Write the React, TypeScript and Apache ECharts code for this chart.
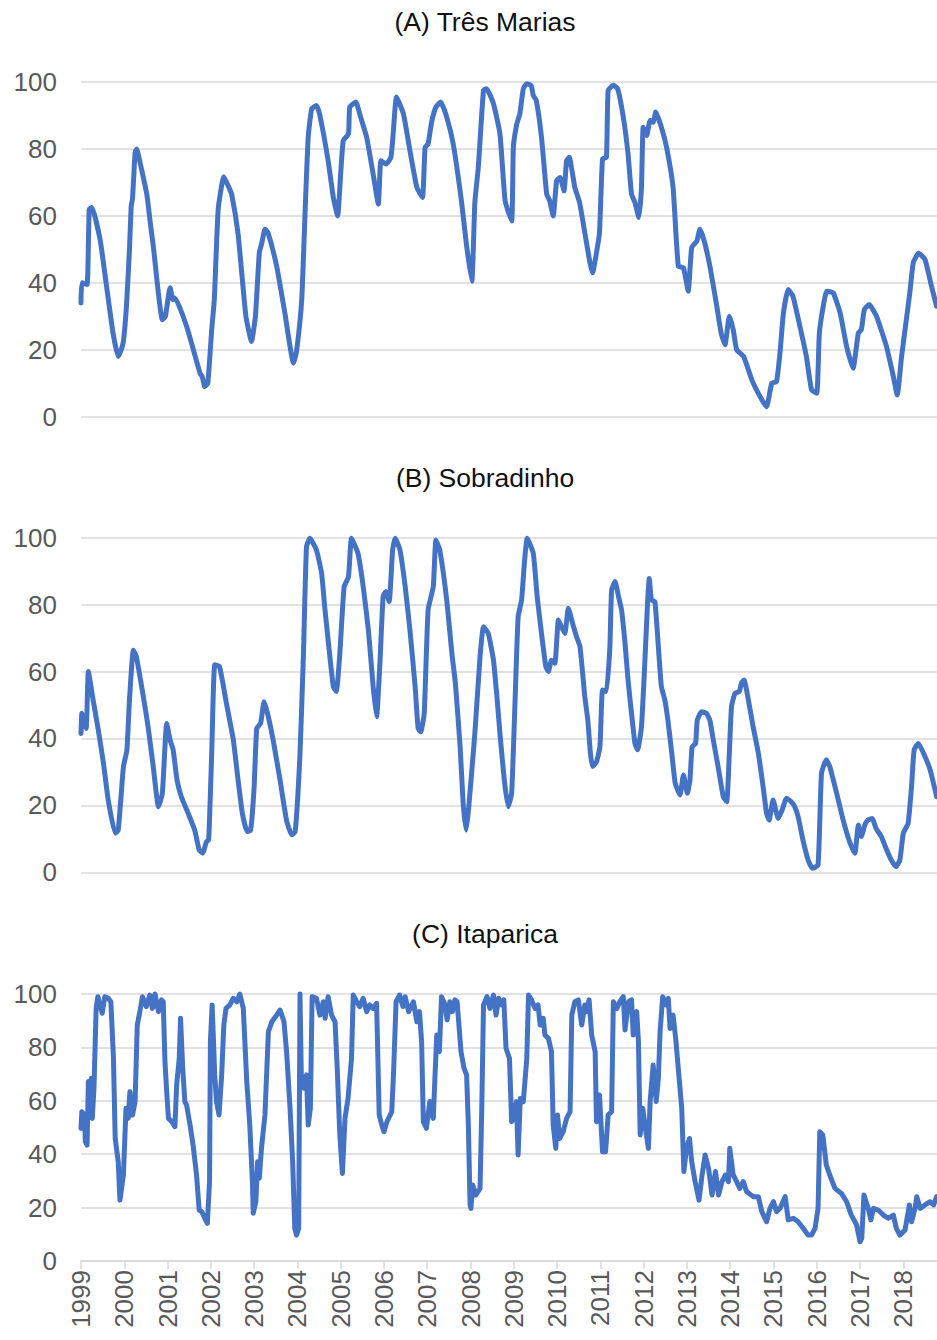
import React, { useEffect, useRef } from "react";
import * as echarts from "echarts";

const titles = ["(A) Três Marias", "(B) Sobradinho", "(C) Itaparica"];
const yTicks = [0, 20, 40, 60, 80, 100];

// Três Marias (decimal year, %)
const tmA = [1999.00,1999.02,1999.14,1999.19,1999.25,1999.44,1999.59,1999.74,1999.86,1999.93,1999.98,2000.05,2000.12,2000.16,2000.19,2000.25,2000.29,2000.33,2000.52,2000.60,2000.67,2000.88,2000.95,2001.03,2001.06,2001.12,2001.17,2001.44,2001.75,2001.80,2001.86,2001.93,2002.02,2002.08,2002.17,2002.30,2002.40,2002.48,2002.63,2002.81,2002.94,2003.03,2003.12,2003.18,2003.25,2003.32,2003.52,2003.71,2003.91,2003.98,2004.10,2004.18,2004.25,2004.33,2004.44,2004.52,2004.71,2004.83,2004.93,2005.00,2005.06,2005.18,2005.21,2005.35,2005.45,2005.60,2005.75,2005.87,2005.93,2006.05,2006.16,2006.21,2006.29,2006.45,2006.60,2006.76,2006.89,2006.95,2007.02,2007.10,2007.20,2007.31,2007.45,2007.60,2007.79,2007.91,2008.03,2008.10,2008.18,2008.30,2008.37,2008.53,2008.68,2008.80,2008.95,2008.99,2009.07,2009.14,2009.22,2009.30,2009.40,2009.45,2009.52,2009.64,2009.76,2009.83,2009.91,2009.99,2010.07,2010.16,2010.22,2010.28,2010.41,2010.52,2010.64,2010.76,2010.82,2010.91,2010.98,2011.05,2011.14,2011.18,2011.30,2011.40,2011.53,2011.64,2011.72,2011.80,2011.89,2011.95,2011.99,2012.07,2012.15,2012.22,2012.28,2012.41,2012.53,2012.68,2012.80,2012.92,2013.03,2013.11,2013.23,2013.30,2013.40,2013.53,2013.69,2013.79,2013.88,2013.98,2014.07,2014.15,2014.31,2014.50,2014.69,2014.84,2014.96,2015.07,2015.15,2015.23,2015.34,2015.45,2015.61,2015.76,2015.88,2016.00,2016.06,2016.15,2016.23,2016.38,2016.54,2016.69,2016.84,2016.96,2017.03,2017.10,2017.21,2017.38,2017.61,2017.77,2017.86,2017.96,2018.04,2018.15,2018.23,2018.35,2018.50,2018.65,2018.77];
const valA = [34,40,39.5,62,62.5,53,39,25,18,20,22.5,33,50,63,65,79,80,78,66.5,58,51,29,30,37,38.5,35,35.5,27,13,12,9,10,26,35,62,71.7,69,66.5,54.5,30,22.5,30,49,52,56,55,45,31,16,19.5,35,62,83.5,92,93,90,76.5,65.5,60,72.5,82.5,84.5,92.5,94,90,83.5,72.5,63.5,76.5,75.5,77.5,84,95.5,90.5,79.5,68.5,65.5,80.5,81.5,88,92.5,94,89.5,81.5,64.5,51,40.5,64,74.5,97.5,98,93.5,84.5,64.5,58.5,80.5,87.5,90.5,98,99.5,99,96,94.5,83.5,66.5,64.5,60,70.5,71.5,67.5,76.5,77.5,68.5,64,55,46,43,49,55,77,77.5,97.5,99,98,89.5,78.5,66.5,64,59.5,68.5,86.5,84,88.5,88,91,86.5,80.5,68.5,45,44.5,37.5,50.5,52.5,56,52.5,45,33,25,21.5,30,26,20,18,11,6,3,10,10.5,19,31,38,36,27,18,8,7,25,33,37.5,37,31,21,14.5,25,26,32,33.5,30,21,12,6.5,18,26,37,46,48.8,47,39,33];

// Sobradinho
const tmB = [1999.00,1999.02,1999.05,1999.12,1999.17,1999.28,1999.40,1999.52,1999.63,1999.79,1999.86,1999.98,2000.06,2000.12,2000.21,2000.28,2000.44,2000.55,2000.67,2000.79,2000.88,2000.98,2001.06,2001.13,2001.22,2001.32,2001.48,2001.63,2001.73,2001.81,2001.90,2001.95,2002.02,2002.09,2002.20,2002.36,2002.52,2002.63,2002.73,2002.84,2002.92,2003.00,2003.06,2003.15,2003.23,2003.31,2003.44,2003.60,2003.75,2003.87,2003.95,2004.06,2004.14,2004.21,2004.29,2004.44,2004.56,2004.63,2004.71,2004.83,2004.90,2004.98,2005.08,2005.18,2005.25,2005.40,2005.52,2005.64,2005.75,2005.83,2005.91,2005.98,2006.04,2006.12,2006.20,2006.26,2006.37,2006.49,2006.60,2006.72,2006.79,2006.85,2006.93,2007.02,2007.14,2007.20,2007.29,2007.45,2007.57,2007.65,2007.76,2007.83,2007.90,2007.96,2008.10,2008.22,2008.30,2008.41,2008.53,2008.61,2008.68,2008.78,2008.87,2008.95,2009.03,2009.10,2009.18,2009.25,2009.31,2009.45,2009.54,2009.64,2009.74,2009.80,2009.87,2009.95,2010.03,2010.10,2010.18,2010.26,2010.38,2010.45,2010.53,2010.64,2010.71,2010.77,2010.82,2010.91,2010.99,2011.05,2011.14,2011.22,2011.26,2011.34,2011.42,2011.49,2011.57,2011.64,2011.72,2011.80,2011.86,2011.95,2012.03,2012.09,2012.13,2012.18,2012.26,2012.34,2012.41,2012.49,2012.56,2012.65,2012.73,2012.84,2012.92,2013.01,2013.07,2013.12,2013.20,2013.24,2013.34,2013.45,2013.53,2013.61,2013.72,2013.84,2013.92,2013.98,2014.03,2014.11,2014.21,2014.26,2014.32,2014.42,2014.53,2014.65,2014.76,2014.84,2014.90,2014.99,2015.11,2015.20,2015.30,2015.41,2015.49,2015.57,2015.68,2015.80,2015.90,2016.03,2016.11,2016.22,2016.30,2016.46,2016.61,2016.77,2016.88,2016.96,2017.03,2017.11,2017.18,2017.28,2017.37,2017.49,2017.60,2017.72,2017.83,2017.92,2018.00,2018.11,2018.19,2018.25,2018.35,2018.50,2018.62,2018.77];
const valB = [41.5,47.5,45.5,43,60,51.5,42.5,32.5,21.5,11.7,12.6,31.5,36.5,51.5,66.4,64.4,52.5,43.5,31.5,19.6,23.6,44.5,39.5,36.5,27.5,22.5,17.5,12.5,6.7,5.7,9.2,9.7,35.5,62,61.5,50.5,39.5,27.5,17.5,12.2,12.6,25.5,43,44.5,51,47.5,39.5,27.5,15.5,11.2,12.2,35.5,65.4,97.3,99.8,96.3,89.3,79.4,69.4,55.5,54,65.4,85.4,88.3,99.8,95.3,85.4,72.4,55.5,46.5,63.4,82.4,83.9,80.9,96.3,99.8,96.3,85.4,72.4,55.5,43,42,47.5,78.4,85.4,99.3,96.3,81.4,65.4,56.5,37.5,20.6,12.6,19.6,41.5,64.4,73.4,71.4,63.4,52.5,41.5,27.6,19.6,23.6,51.5,76.4,81.4,93.3,99.8,95.3,82.4,71.4,61.5,60,63.4,62.5,75.4,73.4,71.4,78.9,73.4,70.4,67.4,52.5,45.5,35.6,31.6,33,37.5,54.5,54,67.4,84.4,86.9,82.4,78.4,68.4,57.5,47.5,38.5,36.6,43.5,63.4,80.4,87.8,81.4,80.9,67.4,55.5,51.5,45.5,35.6,26.6,23.1,29.1,23.6,27.6,37.5,38.5,45.5,48,47.5,45.5,39.5,31.6,22.6,21.1,35.6,49.5,53.5,54,56.5,57.5,51.5,43.5,35.6,25.6,17.6,15.6,21.6,16.1,18.6,22.1,21.1,19.6,16.6,9.7,3.7,1.2,2.2,29.6,33.6,31.6,23.6,15.6,8.7,5.7,14.1,10.7,14.1,15.6,16.1,13.1,10.7,7.2,3.7,1.7,3.7,11.7,14.6,25.6,36.6,38.5,34.6,30.6,22.6];

// Itaparica
const tmC = [1999.00,1999.02,1999.08,1999.10,1999.14,1999.17,1999.20,1999.24,1999.26,1999.30,1999.35,1999.39,1999.44,1999.49,1999.55,1999.63,1999.69,1999.75,1999.79,1999.86,1999.90,1999.98,2000.04,2000.09,2000.13,2000.19,2000.25,2000.30,2000.36,2000.42,2000.51,2000.59,2000.65,2000.71,2000.79,2000.86,2000.90,2000.94,2000.98,2001.02,2001.10,2001.17,2001.21,2001.27,2001.30,2001.35,2001.40,2001.44,2001.52,2001.59,2001.67,2001.73,2001.79,2001.86,2001.92,2001.97,2001.99,2002.03,2002.09,2002.13,2002.19,2002.25,2002.30,2002.35,2002.44,2002.52,2002.60,2002.67,2002.75,2002.83,2002.90,2002.96,2002.98,2003.04,2003.08,2003.12,2003.17,2003.25,2003.33,2003.41,2003.52,2003.60,2003.69,2003.75,2003.83,2003.89,2003.94,2003.98,2004.03,2004.06,2004.09,2004.15,2004.21,2004.25,2004.30,2004.34,2004.44,2004.52,2004.60,2004.64,2004.71,2004.79,2004.87,2004.92,2004.98,2005.04,2005.10,2005.17,2005.25,2005.29,2005.37,2005.44,2005.52,2005.60,2005.67,2005.75,2005.83,2005.89,2005.95,2006.00,2006.07,2006.18,2006.22,2006.28,2006.36,2006.44,2006.49,2006.57,2006.68,2006.76,2006.82,2006.87,2006.91,2006.98,2007.06,2007.14,2007.18,2007.22,2007.28,2007.33,2007.41,2007.46,2007.52,2007.58,2007.64,2007.69,2007.78,2007.85,2007.91,2007.95,2007.99,2008.01,2008.05,2008.12,2008.22,2008.26,2008.30,2008.38,2008.45,2008.53,2008.59,2008.65,2008.72,2008.77,2008.82,2008.90,2008.95,2009.00,2009.06,2009.10,2009.15,2009.22,2009.30,2009.34,2009.41,2009.49,2009.56,2009.61,2009.68,2009.72,2009.80,2009.87,2009.91,2009.97,2010.01,2010.06,2010.14,2010.22,2010.30,2010.34,2010.41,2010.49,2010.57,2010.64,2010.68,2010.74,2010.80,2010.88,2010.91,2010.98,2011.05,2011.12,2011.18,2011.26,2011.30,2011.38,2011.45,2011.53,2011.57,2011.65,2011.72,2011.76,2011.84,2011.88,2011.92,2011.98,2012.04,2012.11,2012.15,2012.22,2012.29,2012.34,2012.38,2012.44,2012.52,2012.57,2012.61,2012.68,2012.74,2012.80,2012.88,2012.93,2012.99,2013.06,2013.11,2013.19,2013.28,2013.35,2013.42,2013.50,2013.58,2013.66,2013.73,2013.81,2013.89,2013.96,2013.99,2014.07,2014.15,2014.22,2014.30,2014.38,2014.53,2014.65,2014.73,2014.84,2014.92,2015.00,2015.07,2015.15,2015.27,2015.34,2015.46,2015.57,2015.69,2015.80,2015.88,2015.96,2016.03,2016.07,2016.14,2016.22,2016.30,2016.42,2016.57,2016.69,2016.80,2016.92,2017.00,2017.04,2017.09,2017.19,2017.25,2017.31,2017.42,2017.54,2017.65,2017.77,2017.84,2017.92,2018.04,2018.14,2018.19,2018.27,2018.31,2018.39,2018.50,2018.62,2018.70,2018.77];
const valC = [49.7,55.9,54.7,44.7,43.4,67.2,54.7,68.4,53.4,64.7,94.6,99,95.9,92.8,99,98.4,97.1,75.9,45.9,37.2,22.8,32.2,57.2,53.4,63.4,54.7,59.7,88.4,93.4,99,95.3,99.6,94.6,100,93.4,97.8,97.1,74.7,63.4,53.4,52.2,50.3,65.9,75.9,90.9,72.2,59.7,58.4,50.9,43.4,32.2,19.1,18.5,16,14.1,29.7,82.1,95.9,69.7,59.7,54.7,69.7,88.4,94.6,95.9,98.4,97.1,100,94.6,67.2,50.9,29.7,17.9,22.2,37.2,31,42.2,54.7,85.9,89.6,92.1,94,89.6,78.4,57.2,37.2,12.2,9.7,12.2,100,69.7,64.7,69.7,50.9,57.2,99,98.4,92.1,97.1,90.9,99,92.1,89.6,72.2,47.2,32.8,53.4,60.9,75.9,99.6,97.1,95.3,98.4,93.4,95.9,94.6,96.5,54.7,50.9,48.4,52.2,55.9,69.7,97.1,99.6,95.3,99,93.4,97.1,89.6,93.4,82.1,52.2,49.7,59.7,53.4,69.7,84.6,78.4,99,95.9,90.3,97.1,93.4,97.8,97.1,78.4,72.2,69.7,50.9,21,19.7,28.5,24.7,27.2,57.2,95.9,99,94.6,99.6,92.1,98.4,95.9,97.8,79.7,75.9,52.2,53.4,59.7,39.7,60.9,59.7,75.9,99.6,97.8,94.6,95.9,88.4,90.9,84.6,83.4,78.4,50.9,42.2,54.7,45.9,48.4,53.4,55.9,92.1,97.1,97.8,88.4,95.9,93.4,97.8,84.6,78.4,52.2,62.2,40.9,40.9,54.7,55.9,97.1,94.6,97.1,99,86.5,97.1,97.8,84.6,93.4,82.1,47.2,57.2,49.7,42.2,59.7,73.4,59.7,68.4,85.9,99,95.9,98.4,87.1,92.1,83.4,72.2,57.2,33.5,42.2,45.9,37.2,29.7,22.8,32.2,39.7,34.7,24.7,33.5,24.7,29.7,32.2,29.7,42.2,32.2,29.7,27.2,29.7,26,24.1,24.1,18.5,14.7,19.7,22.2,18.5,19.7,24.1,15.4,16,14.7,12.2,9.7,9.7,12.2,19.7,48.4,47.2,36,32.2,27.2,25.3,22.2,17.2,13.5,7.2,8.5,24.7,19.7,15.4,19.7,19.1,17.2,16,17.2,12.2,9.7,11.6,21,14.7,19.7,24.1,19.7,21,22.2,21,24.1];

const X_MIN = 1999;
const X_MAX = 2019;

const zip = (t: number[], v: number[]) => t.map((x, i) => [x, v[i]]);

export default function App() {
  const ref = useRef<HTMLDivElement>(null);
  useEffect(() => {
    if (!ref.current) return;
    const chart = echarts.init(ref.current, undefined, { renderer: "svg" });
    const font = "'Liberation Sans', Arial, sans-serif";
    const base = { left: 81, width: 865.6, containLabel: false, outerBoundsMode: "none" };
    const grids = [
      { ...base, top: 82, height: 334.7 },
      { ...base, top: 537.7, height: 334.6 },
      { ...base, top: 994, height: 267 },
    ];
    const titleY = [22, 478, 934];
    const series = [zip(tmA, valA), zip(tmB, valB), zip(tmC, valC)];
    chart.setOption({
      animation: false,
      backgroundColor: "#ffffff",
      grid: grids,
      graphic: titles.map((t, i) => ({
        type: "text",
        x: 485,
        y: titleY[i],
        style: {
          text: t,
          fill: "#111111",
          font: `26.5px ${font}`,
          textAlign: "center",
          textVerticalAlign: "middle",
        },
      })),
      xAxis: [0, 1, 2].map((i) => ({
        type: "value",
        gridIndex: i,
        min: X_MIN,
        max: X_MAX,
        interval: 1,
        show: i === 2,
        splitLine: { show: false },
        axisLine: { show: true, lineStyle: { color: "#d9d9d9", width: 1.5 } },
        axisTick: { show: true, length: 8, lineStyle: { color: "#d9d9d9", width: 1.5 } },
        axisLabel: {
          rotate: 90,
          margin: 9,
          color: "#595959",
          fontSize: 26,
          fontFamily: font,
          formatter: (v: number) => (v >= X_MAX ? "" : String(v)),
        },
      })),
      yAxis: [0, 1, 2].map((i) => ({
        type: "value",
        gridIndex: i,
        min: yTicks[0],
        max: yTicks[yTicks.length - 1],
        interval: 20,
        axisLine: { show: false },
        axisTick: { show: false },
        splitLine: { show: true, lineStyle: { color: "#d9d9d9", width: 1.5 } },
        axisLabel: {
          margin: 24,
          color: "#595959",
          fontSize: 26,
          fontFamily: font,
        },
      })),
      series: series.map((d, i) => ({
        type: "line",
        xAxisIndex: i,
        yAxisIndex: i,
        data: d,
        showSymbol: false,
        symbol: "none",
        clip: false,
        smooth: i === 2 ? false : 0.15,
        lineStyle: { color: "#4472c4", width: 5, join: "round", cap: "round" },
      })),
    });
    return () => chart.dispose();
  }, []);
  return (
    <div
      ref={ref}
      style={{ position: "absolute", left: 0, top: 0, width: 937, height: 1340, background: "#fff" }}
    />
  );
}
